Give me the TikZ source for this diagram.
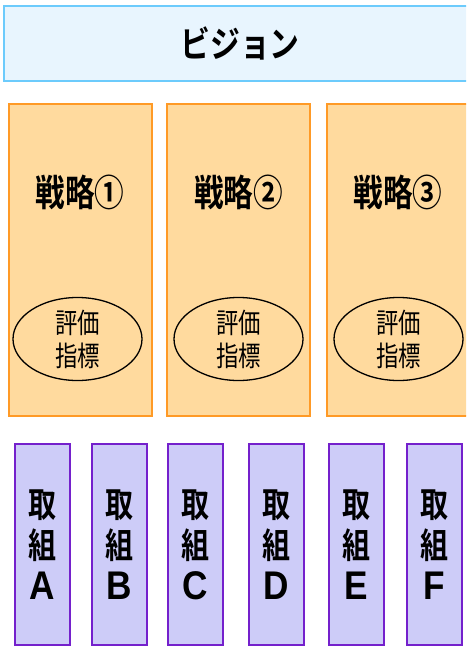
\documentclass[tikz,border=0pt]{standalone}
\usepackage{graphicx}
\usepackage{fontspec}
\setmainfont{Noto Sans CJK JP}
\newfontfamily\jpbold{Noto Sans CJK JP Bold}
\newfontfamily\latbold{Liberation Sans Bold}
\newcommand\narrow[2]{\scalebox{#1}[1]{#2}}
\usetikzlibrary{shapes.geometric}
\definecolor{visfill}{HTML}{E8F5FE}
\definecolor{visdraw}{HTML}{6CCBFC}
\definecolor{strfill}{HTML}{FFDA9E}
\definecolor{strdraw}{HTML}{FF9A26}
\definecolor{actfill}{HTML}{CDCCF8}
\definecolor{actdraw}{HTML}{7420CC}
\newcommand\act[1]{\narrow{0.8}{取}\\\narrow{0.8}{組}\\{\latbold\fontsize{40}{41}\selectfont\narrow{0.88}{#1}}}
\tikzset{
  visbox/.style={draw=visdraw, fill=visfill, line width=2.2pt, inner sep=0pt,
    minimum width=472pt, minimum height=75pt,
    font=\jpbold\fontsize{36}{40}\selectfont},
  strbox/.style={draw=strdraw, fill=strfill, line width=2pt, inner sep=0pt,
    minimum width=143pt, minimum height=312pt},
  strlabel/.style={inner sep=0pt, font=\jpbold\fontsize{37}{40}\selectfont},
  kpi/.style={ellipse, draw=black, line width=1.3pt, inner sep=0pt,
    minimum width=129pt, minimum height=78pt, align=center,
    font=\fontsize{28}{33}\selectfont},
  actbox/.style={draw=actdraw, fill=actfill, line width=2pt, inner sep=0pt,
    minimum width=55pt, minimum height=201pt, align=center,
    font=\jpbold\fontsize{35}{41}\selectfont}
}
\begin{document}
\begin{tikzpicture}[x=1pt,y=-1pt]
\useasboundingbox (0,0) rectangle (466,648);
\clip (0,0) rectangle (466,648);
\node[visbox] (vision) at (240,43.5) {\narrow{0.83}{ビジョン}};

\node[strbox] (s1) at (80,260) {};
\node[strbox] (s2) at (238.5,260) {};
\node[strbox] (s3) at (398,260) {};
\node[strlabel] (l1) at (80,192) {\narrow{0.8}{戦略①}};
\node[strlabel] (l2) at (238.5,192) {\narrow{0.8}{戦略②}};
\node[strlabel] (l3) at (398,192) {\narrow{0.8}{戦略③}};
\node[kpi] (k1) at (77.5,339) {\narrow{0.8}{評価}\\\narrow{0.8}{指標}};
\node[kpi] (k2) at (238.5,339) {\narrow{0.8}{評価}\\\narrow{0.8}{指標}};
\node[kpi] (k3) at (398.5,339) {\narrow{0.8}{評価}\\\narrow{0.8}{指標}};

\node[actbox] (a) at (42,544.5) {\act{A}};
\node[actbox] (b) at (119.5,544.5) {\act{B}};
\node[actbox] (c) at (195.5,544.5) {\act{C}};
\node[actbox] (d) at (276.5,544.5) {\act{D}};
\node[actbox] (e) at (356.5,544.5) {\act{E}};
\node[actbox] (f) at (434,544.5) {\act{F}};
\end{tikzpicture}
\end{document}
